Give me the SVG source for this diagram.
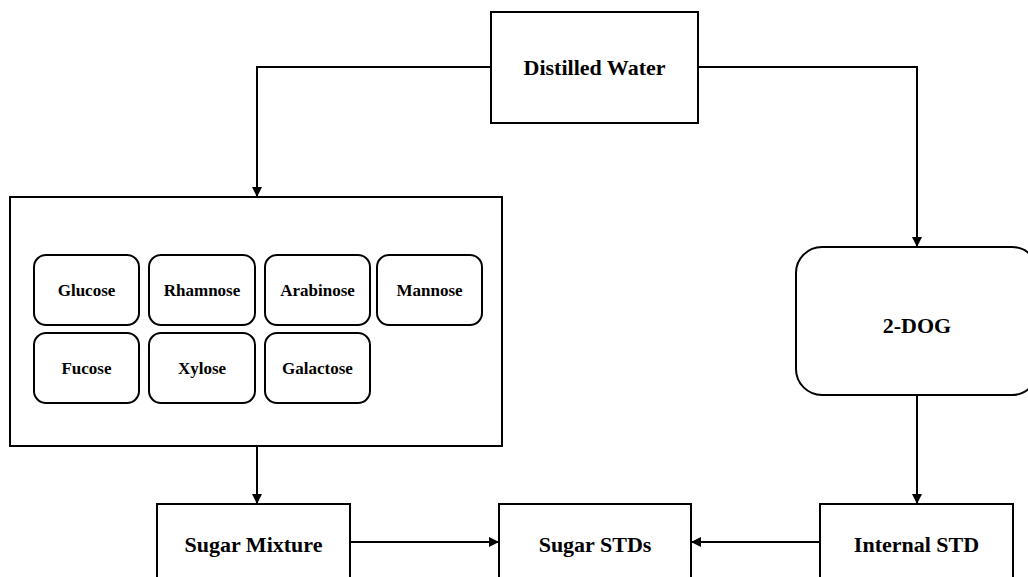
<svg xmlns="http://www.w3.org/2000/svg" width="1028" height="577" viewBox="0 0 1028 577">
  <style>
    .box { fill: #ffffff; stroke: #000000; stroke-width: 2; }
    .lbl { font-family: "Liberation Serif", "Times New Roman", serif; font-weight: bold; font-size: 22px; fill: #000000; text-anchor: middle; }
    .sm { font-size: 17px; }
    .wire { fill: none; stroke: #000000; stroke-width: 2; }
  </style>
  <defs>
    <marker id="arrow" viewBox="0 0 10 10" refX="10" refY="5" markerWidth="5" markerHeight="5" orient="auto" markerUnits="strokeWidth">
      <path d="M0,0 L10,5 L0,10 z" fill="#000000"/>
    </marker>
  </defs>
  <rect width="1028" height="577" fill="#ffffff"/>

  <!-- connectors -->
  <g id="connectors">
    <polyline class="wire" points="491,67 257,67 257,197" marker-end="url(#arrow)"/>
    <polyline class="wire" points="698,67 917,67 917,247" marker-end="url(#arrow)"/>
    <line class="wire" x1="257" y1="446" x2="257" y2="504" marker-end="url(#arrow)"/>
    <line class="wire" x1="917" y1="395" x2="917" y2="504" marker-end="url(#arrow)"/>
    <line class="wire" x1="350" y1="542" x2="499" y2="542" marker-end="url(#arrow)"/>
    <line class="wire" x1="820" y1="542" x2="691" y2="542" marker-end="url(#arrow)"/>
  </g>

  <g id="distilled-water">
    <rect class="box" x="491" y="12" width="207" height="111"/>
    <text class="lbl" x="594.5" y="75">Distilled Water</text>
  </g>

  <g id="sugar-set">
    <rect class="box" x="10" y="197" width="492" height="249"/>
  </g>
  <g id="glucose">
    <rect class="box" x="34" y="255" width="105" height="70" rx="12"/>
    <text class="lbl sm" x="86.5" y="296">Glucose</text>
  </g>
  <g id="rhamnose">
    <rect class="box" x="149" y="255" width="106" height="70" rx="12"/>
    <text class="lbl sm" x="202" y="296">Rhamnose</text>
  </g>
  <g id="arabinose">
    <rect class="box" x="265" y="255" width="105" height="70" rx="12"/>
    <text class="lbl sm" x="317.5" y="296">Arabinose</text>
  </g>
  <g id="mannose">
    <rect class="box" x="377" y="255" width="105" height="70" rx="12"/>
    <text class="lbl sm" x="429.5" y="296">Mannose</text>
  </g>
  <g id="fucose">
    <rect class="box" x="34" y="333" width="105" height="70" rx="12"/>
    <text class="lbl sm" x="86.5" y="374">Fucose</text>
  </g>
  <g id="xylose">
    <rect class="box" x="149" y="333" width="106" height="70" rx="12"/>
    <text class="lbl sm" x="202" y="374">Xylose</text>
  </g>
  <g id="galactose">
    <rect class="box" x="265" y="333" width="105" height="70" rx="12"/>
    <text class="lbl sm" x="317.5" y="374">Galactose</text>
  </g>

  <g id="two-dog">
    <rect class="box" x="796" y="247" width="242" height="148" rx="26"/>
    <text class="lbl" x="917" y="333">2-DOG</text>
  </g>

  <g id="sugar-mixture">
    <rect class="box" x="157" y="504" width="193" height="90"/>
    <text class="lbl" x="253.5" y="552">Sugar Mixture</text>
  </g>
  <g id="sugar-stds">
    <rect class="box" x="499" y="504" width="192" height="90"/>
    <text class="lbl" x="595" y="552">Sugar STDs</text>
  </g>
  <g id="internal-std">
    <rect class="box" x="820" y="504" width="193" height="90"/>
    <text class="lbl" x="916.5" y="552">Internal STD</text>
  </g>
</svg>
